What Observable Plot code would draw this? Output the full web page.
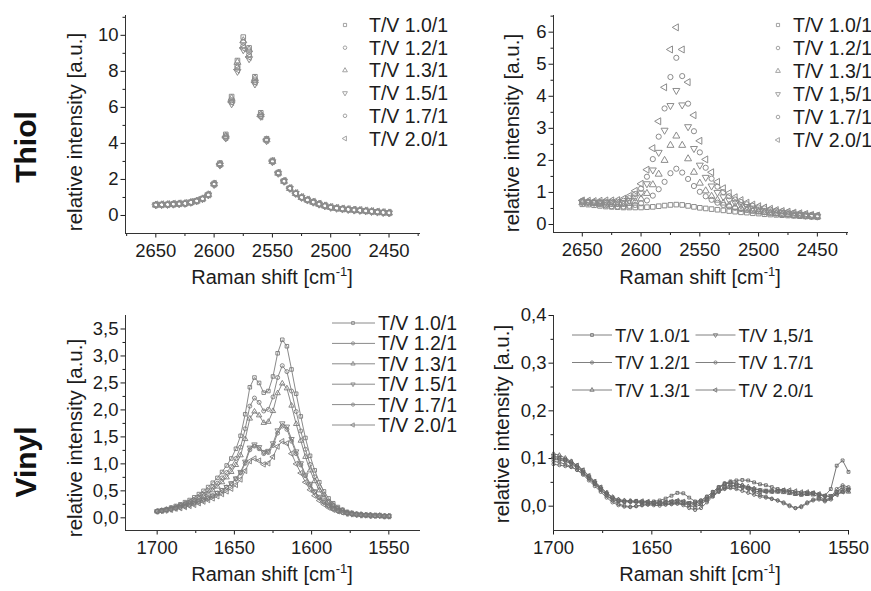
<!DOCTYPE html>
<html><head><meta charset="utf-8">
<script src="https://cdn.jsdelivr.net/npm/d3@7"></script>
<script src="https://cdn.jsdelivr.net/npm/@observablehq/plot@0.6"></script>
<style>
html,body{margin:0;padding:0;background:#fff;overflow:hidden;}
#wrap{position:relative;width:871px;height:591px;overflow:hidden;background:#fff;}
</style></head><body><div id="wrap"></div>
<script>
// ---------- DATA ----------
const thiolX = [2650,2645,2640,2635,2630,2625,2620,2615,2610,2605,2600,2595,2590,2585,2580,2575,2570,2565,2560,2555,2550,2545,2540,2535,2530,2525,2520,2515,2510,2505,2500,2495,2490,2485,2480,2475,2470,2465,2460,2455,2450];
const vinylX = [1700,1697,1694,1691,1688,1685,1682,1679,1676,1673,1670,1667,1664,1661,1658,1655,1652,1649,1646,1643,1640,1637,1634,1631,1628,1625,1622,1619,1616,1613,1610,1607,1604,1601,1598,1595,1592,1589,1586,1583,1580,1577,1574,1571,1568,1565,1562,1559,1556,1553,1550];

const namesA = ["T/V 1.0/1","T/V 1.2/1","T/V 1.3/1","T/V 1.5/1","T/V 1.7/1","T/V 2.0/1"];
const namesB = ["T/V 1.0/1","T/V 1.2/1","T/V 1.3/1","T/V 1,5/1","T/V 1.7/1","T/V 2.0/1"];

// Thiol, left panel
const tl10 = [0.60,0.61,0.62,0.64,0.66,0.68,0.74,0.82,0.94,1.17,1.78,2.9,4.5,6.6,8.6,9.9,9.3,7.7,5.7,4.25,3.05,2.38,1.92,1.52,1.23,1.01,0.87,0.75,0.64,0.54,0.46,0.41,0.37,0.34,0.31,0.29,0.26,0.23,0.2,0.17,0.15];
const tl12 = [0.56,0.57,0.58,0.60,0.62,0.64,0.70,0.78,0.90,1.12,1.70,2.8,4.3,6.3,8.2,9.4,8.9,7.4,5.5,4.15,2.97,2.32,1.88,1.48,1.20,0.98,0.84,0.72,0.61,0.52,0.44,0.39,0.35,0.32,0.29,0.27,0.24,0.21,0.18,0.15,0.13];
const tl13 = [0.58,0.59,0.60,0.62,0.64,0.66,0.72,0.80,0.92,1.15,1.75,2.85,4.4,6.5,8.5,9.7,9.2,7.6,5.6,4.2,3.0,2.35,1.9,1.5,1.22,1.0,0.86,0.74,0.63,0.53,0.45,0.4,0.36,0.33,0.3,0.28,0.25,0.22,0.19,0.16,0.14];
const tl15 = [0.59,0.60,0.61,0.63,0.65,0.67,0.73,0.81,0.93,1.14,1.72,2.8,4.3,6.2,8.0,9.2,8.7,7.3,5.5,4.15,2.98,2.34,1.9,1.5,1.22,1.0,0.86,0.74,0.63,0.53,0.45,0.4,0.36,0.33,0.3,0.28,0.25,0.22,0.19,0.16,0.14];
const tl17 = [0.57,0.58,0.59,0.61,0.63,0.65,0.71,0.79,0.91,1.14,1.74,2.85,4.4,6.4,8.3,9.6,9.1,7.5,5.6,4.2,3.0,2.35,1.9,1.5,1.22,1.0,0.86,0.74,0.63,0.53,0.45,0.4,0.36,0.33,0.3,0.28,0.25,0.22,0.19,0.16,0.14];
const tl20 = [0.61,0.62,0.63,0.65,0.67,0.69,0.75,0.83,0.95,1.16,1.76,2.85,4.35,6.3,8.1,9.3,8.8,7.4,5.5,4.2,3.02,2.37,1.92,1.52,1.24,1.02,0.88,0.76,0.65,0.55,0.47,0.42,0.38,0.35,0.32,0.3,0.27,0.24,0.21,0.18,0.16];

// Thiol, right panel
const tr10 = [0.63,0.62,0.60,0.58,0.56,0.55,0.54,0.53,0.53,0.53,0.53,0.54,0.55,0.57,0.59,0.61,0.62,0.61,0.58,0.55,0.52,0.50,0.48,0.46,0.44,0.42,0.40,0.38,0.37,0.35,0.34,0.32,0.31,0.30,0.29,0.28,0.27,0.26,0.25,0.24,0.23];
const tr12 = [0.74,0.71,0.67,0.63,0.60,0.57,0.56,0.56,0.58,0.61,0.66,0.75,0.90,1.10,1.33,1.60,1.74,1.62,1.42,1.20,1.02,0.88,0.77,0.68,0.61,0.56,0.52,0.48,0.45,0.42,0.40,0.38,0.36,0.34,0.32,0.31,0.29,0.28,0.26,0.25,0.24];
const tr13 = [0.68,0.67,0.66,0.65,0.64,0.63,0.63,0.63,0.66,0.71,0.80,0.97,1.24,1.57,2.00,2.47,2.76,2.47,2.05,1.63,1.29,1.05,0.88,0.76,0.67,0.60,0.54,0.50,0.46,0.43,0.41,0.38,0.36,0.34,0.32,0.31,0.29,0.27,0.27,0.25,0.24];
const tr15 = [0.70,0.69,0.68,0.68,0.68,0.68,0.67,0.69,0.75,0.85,0.98,1.27,1.70,2.25,2.94,3.71,4.18,3.73,3.05,2.37,1.85,1.47,1.20,1.00,0.86,0.76,0.68,0.61,0.56,0.51,0.48,0.44,0.42,0.39,0.37,0.35,0.32,0.31,0.29,0.27,0.26];
const tr17 = [0.72,0.71,0.70,0.70,0.71,0.71,0.71,0.74,0.82,0.95,1.12,1.49,2.04,2.74,3.62,4.60,5.20,4.63,3.77,2.91,2.25,1.77,1.43,1.18,1.01,0.88,0.78,0.70,0.63,0.58,0.53,0.50,0.46,0.43,0.41,0.38,0.36,0.34,0.32,0.30,0.28];
const tr20 = [0.75,0.74,0.73,0.74,0.75,0.75,0.76,0.80,0.89,1.05,1.27,1.71,2.38,3.22,4.28,5.46,6.15,5.46,4.44,3.41,2.61,2.03,1.63,1.33,1.13,0.98,0.85,0.76,0.68,0.62,0.57,0.53,0.49,0.45,0.42,0.40,0.37,0.35,0.33,0.30,0.28];

// Vinyl, left panel
const bl10 = [0.12,0.14,0.16,0.19,0.22,0.25,0.29,0.33,0.38,0.44,0.50,0.57,0.65,0.74,0.85,0.97,1.10,1.28,1.52,1.92,2.42,2.60,2.50,2.32,2.35,2.62,3.05,3.30,3.18,2.75,2.30,1.88,1.48,1.15,0.88,0.66,0.49,0.36,0.27,0.20,0.15,0.11,0.09,0.07,0.06,0.05,0.05,0.04,0.04,0.03,0.03];
const bl12 = [0.12,0.14,0.15,0.18,0.20,0.23,0.26,0.30,0.34,0.39,0.44,0.50,0.57,0.64,0.74,0.84,0.95,1.10,1.31,1.65,2.07,2.22,2.14,1.98,2.01,2.24,2.60,2.82,2.71,2.35,1.97,1.61,1.27,0.99,0.76,0.57,0.43,0.31,0.24,0.18,0.14,0.10,0.08,0.07,0.06,0.05,0.05,0.04,0.04,0.03,0.03];
const bl13 = [0.12,0.13,0.15,0.17,0.19,0.22,0.25,0.27,0.31,0.36,0.40,0.45,0.51,0.58,0.66,0.75,0.85,0.98,1.16,1.46,1.84,1.97,1.90,1.76,1.78,1.98,2.31,2.49,2.40,2.08,1.74,1.43,1.13,0.88,0.68,0.51,0.38,0.28,0.22,0.16,0.13,0.09,0.08,0.06,0.06,0.05,0.05,0.04,0.04,0.03,0.03];
const bl15 = [0.12,0.13,0.14,0.16,0.18,0.20,0.22,0.24,0.27,0.30,0.33,0.37,0.41,0.46,0.51,0.57,0.64,0.73,0.85,1.04,1.30,1.36,1.31,1.22,1.24,1.38,1.62,1.75,1.69,1.46,1.23,1.01,0.80,0.63,0.49,0.39,0.30,0.23,0.18,0.14,0.11,0.08,0.07,0.06,0.05,0.05,0.04,0.04,0.04,0.03,0.03];
const bl17 = [0.12,0.13,0.15,0.16,0.18,0.20,0.22,0.25,0.28,0.31,0.34,0.37,0.41,0.46,0.51,0.57,0.63,0.72,0.83,1.01,1.26,1.33,1.28,1.19,1.21,1.34,1.57,1.70,1.64,1.42,1.19,0.98,0.78,0.61,0.48,0.37,0.29,0.22,0.17,0.13,0.10,0.08,0.07,0.06,0.05,0.05,0.04,0.04,0.04,0.03,0.03];
const bl20 = [0.12,0.13,0.14,0.15,0.17,0.18,0.20,0.22,0.24,0.27,0.30,0.33,0.36,0.40,0.44,0.49,0.54,0.61,0.71,0.87,1.05,1.10,1.06,0.99,1.01,1.13,1.32,1.42,1.38,1.19,1.00,0.83,0.66,0.52,0.41,0.32,0.25,0.19,0.15,0.12,0.10,0.08,0.07,0.06,0.05,0.05,0.04,0.04,0.04,0.03,0.03];

// Vinyl, right panel
const br10 = [0.105,0.102,0.097,0.091,0.083,0.071,0.058,0.046,0.034,0.022,0.014,0.010,0.009,0.010,0.011,0.010,0.009,0.010,0.012,0.016,0.022,0.028,0.027,0.018,0.010,0.012,0.020,0.030,0.040,0.048,0.052,0.054,0.055,0.054,0.050,0.046,0.044,0.040,0.036,0.034,0.030,0.026,0.024,0.026,0.028,0.025,0.022,0.036,0.085,0.096,0.072];
const br12 = [0.088,0.086,0.084,0.082,0.076,0.066,0.054,0.042,0.030,0.018,0.008,0.002,-0.001,-0.002,0.000,0.002,0.003,0.002,0.001,0.003,0.005,0.006,0.002,-0.004,-0.008,-0.004,0.008,0.020,0.030,0.036,0.038,0.036,0.032,0.028,0.024,0.020,0.018,0.015,0.012,0.008,0.002,-0.004,-0.002,0.006,0.012,0.014,0.010,0.014,0.030,0.040,0.036];
const br13 = [0.110,0.107,0.101,0.094,0.085,0.075,0.063,0.051,0.039,0.028,0.019,0.014,0.012,0.011,0.010,0.008,0.006,0.005,0.005,0.006,0.007,0.008,0.006,0.002,-0.002,0.004,0.014,0.026,0.038,0.046,0.049,0.047,0.044,0.041,0.037,0.033,0.031,0.030,0.030,0.029,0.027,0.025,0.024,0.025,0.024,0.020,0.014,0.016,0.026,0.030,0.030];
const br15 = [0.098,0.097,0.094,0.089,0.081,0.072,0.061,0.049,0.037,0.026,0.017,0.012,0.010,0.009,0.008,0.007,0.007,0.007,0.008,0.009,0.010,0.011,0.010,0.007,0.006,0.010,0.016,0.024,0.032,0.038,0.041,0.040,0.039,0.038,0.036,0.034,0.033,0.032,0.032,0.031,0.030,0.028,0.027,0.028,0.027,0.024,0.020,0.022,0.030,0.034,0.034];
const br17 = [0.094,0.092,0.088,0.083,0.076,0.068,0.058,0.047,0.035,0.023,0.012,0.005,0.001,-0.001,0.000,0.002,0.004,0.006,0.005,0.004,0.004,0.005,0.006,0.006,0.008,0.012,0.020,0.030,0.040,0.047,0.050,0.048,0.044,0.038,0.030,0.024,0.020,0.016,0.012,0.006,0.000,-0.004,0.000,0.008,0.014,0.016,0.012,0.018,0.036,0.044,0.040];
const br20 = [0.102,0.100,0.098,0.093,0.086,0.076,0.064,0.052,0.040,0.028,0.018,0.012,0.010,0.010,0.010,0.011,0.010,0.008,0.007,0.008,0.010,0.012,0.010,0.006,0.003,0.006,0.012,0.022,0.032,0.040,0.044,0.043,0.040,0.036,0.032,0.030,0.030,0.031,0.032,0.034,0.034,0.032,0.030,0.030,0.028,0.026,0.022,0.020,0.024,0.030,0.034];

// tick values
const thiolXTicks = [2650,2600,2550,2500,2450];
const thiolXMinorL = [2675,2625,2575,2525,2475,2425];
const thiolXMinorR = [2625,2575,2525,2475,2425];
const thiolLYTicks = [0,2,4,6,8,10];
const thiolLYMinor = [1,3,5,7,9,11];
const thiolRYTicks = [0,1,2,3,4,5,6];
const thiolRYMinor = [0.5,1.5,2.5,3.5,4.5,5.5,6.5];
const vinylXTicks = [1700,1650,1600,1550];
const vinylXMinor = [1675,1625,1575];
const vinylLYTicks = [0,0.5,1,1.5,2,2.5,3,3.5];
const vinylLYMinor = [0.25,0.75,1.25,1.75,2.25,2.75,3.25];
const vinylRYTicks = [0,0.1,0.2,0.3,0.4];
const vinylRYMinor = [0.05,0.15,0.25,0.35];

// ---------- HELPERS ----------
const FONT = "'Liberation Sans', Arial, Helvetica, sans-serif";
const sqrt3 = Math.sqrt(3);
const triDown = {draw(ctx, size) { const y = -Math.sqrt(size / (sqrt3 * 3)); ctx.moveTo(0, -y * 2); ctx.lineTo(sqrt3 * y, y); ctx.lineTo(-sqrt3 * y, y); ctx.closePath(); }};
const triLeft = {draw(ctx, size) { const y = -Math.sqrt(size / (sqrt3 * 3)); ctx.moveTo(y * 2, 0); ctx.lineTo(-y, sqrt3 * y); ctx.lineTo(-y, -sqrt3 * y); ctx.closePath(); }};
const symbols = [d3.symbolSquare, d3.symbolCircle, d3.symbolTriangle, triDown, d3.symbolCircle, triLeft];
const comma1 = d => d3.format(".1f")(d).replace(".", ",");
const intFmt = d => d3.format("d")(d);

function rows(xs, ys) { return xs.map((x, i) => ({x, y: ys[i]})); }

const wrap = document.getElementById("wrap");

function makePanel(c) {
  const svg = Plot.plot({
    width: c.width, height: c.height,
    marginLeft: c.mL, marginRight: c.mR, marginTop: c.mT, marginBottom: c.mB,
    x: {domain: c.xDomain, label: null},
    y: {domain: c.yDomain, label: null},
    style: {fontFamily: FONT, fontSize: "18.5px", color: "#1c1c1c", background: "transparent", overflow: "visible"},
    marks: [
      Plot.axisX({ticks: c.xMinor, tickSize: 3, tickFormat: () => "", label: null}),
      Plot.axisX({ticks: c.xMajor, tickSize: 4.5, tickPadding: 6, tickFormat: intFmt, label: null}),
      Plot.axisY({ticks: c.yMinor, tickSize: 2.5, tickFormat: () => "", label: null}),
      Plot.axisY({ticks: c.yMajor, tickSize: 4.5, tickPadding: 2.5, tickFormat: c.yFmt, label: null}),
      ...c.marks,
      Plot.ruleX([c.xDomain[0]], {stroke: "#333", strokeWidth: 1}),
      Plot.ruleY([c.yDomain[0]], {stroke: "#333", strokeWidth: 1})
    ]
  });
  svg.style.position = "absolute";
  svg.style.left = c.left + "px";
  svg.style.top = c.top + "px";
  wrap.appendChild(svg);
  const s = d3.select(svg);
  const xt = s.append("text").attr("x", c.xTitle[0]).attr("y", c.xTitle[1])
    .attr("text-anchor", "middle").attr("font-size", 20).attr("fill", "#1c1c1c");
  xt.append("tspan").text("Raman shift [cm");
  xt.append("tspan").attr("dy", -8).attr("font-size", 13).text("-1");
  xt.append("tspan").attr("dy", 8).text("]");
  s.append("text").attr("transform", `translate(${c.yTitle[0]},${c.yTitle[1]}) rotate(-90)`)
    .attr("text-anchor", "middle").attr("font-size", 20.5).attr("fill", "#1c1c1c")
    .text("relative intensity [a.u.]");
  return s;
}

function scatterMarks(series) {
  return series.map((ys, i) => Plot.dot(rows(thiolX, ys), {x: "x", y: "y", symbol: symbols[i], r: 2.6, stroke: "#8c8c8c", strokeWidth: 1, fill: "none"}));
}
function lineMarks(series, stroke, r, mstroke) {
  const m = [];
  series.forEach((ys, i) => {
    m.push(Plot.line(rows(vinylX, ys), {x: "x", y: "y", stroke, strokeWidth: 1}));
    m.push(Plot.dot(rows(vinylX, ys), {x: "x", y: "y", symbol: symbols[i], r, stroke: mstroke, strokeWidth: 0.9, fill: "none"}));
  });
  return m;
}

function legend(s, names, pos) {
  const g = s.append("g").attr("font-size", pos.fs).attr("fill", "#1c1c1c").attr("text-anchor", "start");
  names.forEach((n, i) => {
    const col = pos.cols ? Math.floor(i / pos.cols.per) : 0;
    const row = pos.cols ? i % pos.cols.per : i;
    const ox = pos.cols ? pos.cols.dx[col] : 0;
    const y = pos.y0 + row * pos.dy;
    if (pos.line) {
      g.append("line").attr("x1", pos.line[0] + ox).attr("x2", pos.line[1] + ox).attr("y1", y).attr("y2", y)
        .attr("stroke", pos.lineColor).attr("stroke-width", 1);
    }
    g.append("path").attr("transform", `translate(${pos.sx + ox},${y})`)
      .attr("d", d3.symbol(symbols[i], pos.size)()).attr("fill", "none").attr("stroke", pos.symColor).attr("stroke-width", 0.9);
    g.append("text").attr("x", pos.tx + ox).attr("y", y).attr("dy", "0.36em").attr("text-anchor", "start").text(n);
  });
}

// ---------- PANELS ----------
const p1 = makePanel({
  left: 0, top: 0, width: 440, height: 300, mL: 125, mR: 20, mT: 15, mB: 67,
  xDomain: [2676, 2423], yDomain: [-1, 11.1],
  xMajor: thiolXTicks, xMinor: thiolXMinorL, yMajor: thiolLYTicks, yMinor: thiolLYMinor, yFmt: intFmt,
  marks: scatterMarks([tl10, tl12, tl13, tl15, tl17, tl20]),
  xTitle: [272, 284], yTitle: [82, 132]
});
legend(p1, namesA, {fs: 19.5, sx: 345, tx: 369, y0: 25, dy: 22.7, size: 10, symColor: "#9a9a9a"});
p1.append("text").attr("transform", "translate(36,147) rotate(-90)").attr("text-anchor", "middle")
  .attr("font-size", 30).attr("font-weight", "bold").attr("fill", "#111").text("Thiol");

const p2 = makePanel({
  left: 440, top: 0, width: 431, height: 300, mL: 113, mR: 23, mT: 15, mB: 68,
  xDomain: [2674.5, 2423.5], yDomain: [-0.25, 6.52],
  xMajor: thiolXTicks, xMinor: thiolXMinorR, yMajor: thiolRYTicks, yMinor: thiolRYMinor, yFmt: intFmt,
  marks: scatterMarks([tr10, tr12, tr13, tr15, tr17, tr20]),
  xTitle: [260, 284], yTitle: [79, 133]
});
legend(p2, namesB, {fs: 19.5, sx: 338, tx: 353, y0: 25, dy: 23, size: 10, symColor: "#9a9a9a"});

const p3 = makePanel({
  left: 0, top: 300, width: 440, height: 291, mL: 125, mR: 20, mT: 15, mB: 61,
  xDomain: [1720.5, 1529.5], yDomain: [-0.235, 3.75],
  xMajor: vinylXTicks, xMinor: vinylXMinor, yMajor: vinylLYTicks, yMinor: vinylLYMinor, yFmt: comma1,
  marks: lineMarks([bl10, bl12, bl13, bl15, bl17, bl20], "#8a8a8a", 2, "#7a7a7a"),
  xTitle: [272, 281], yTitle: [82, 138]
});
legend(p3, namesA, {fs: 19.5, sx: 353, tx: 378, y0: 23, dy: 20.4, size: 8, symColor: "#888", line: [332, 375], lineColor: "#8a8a8a"});
p3.append("text").attr("transform", "translate(36,162) rotate(-90)").attr("text-anchor", "middle")
  .attr("font-size", 30).attr("font-weight", "bold").attr("fill", "#111").text("Vinyl");

const p4 = makePanel({
  left: 440, top: 300, width: 431, height: 291, mL: 113, mR: 23, mT: 15, mB: 61,
  xDomain: [1700, 1550], yDomain: [-0.051, 0.4],
  xMajor: vinylXTicks, xMinor: vinylXMinor, yMajor: vinylRYTicks, yMinor: vinylRYMinor, yFmt: comma1,
  marks: lineMarks([br10, br12, br13, br15, br17, br20], "#767676", 1.6, "#666"),
  xTitle: [260, 281], yTitle: [69, 124]
});
legend(p4, namesB, {fs: 18.5, sx: 152, tx: 175, y0: 35, dy: 27.5, size: 8, symColor: "#777", line: [132, 172], lineColor: "#808080", cols: {per: 3, dx: [0, 123.5]}});
</script></body></html>
